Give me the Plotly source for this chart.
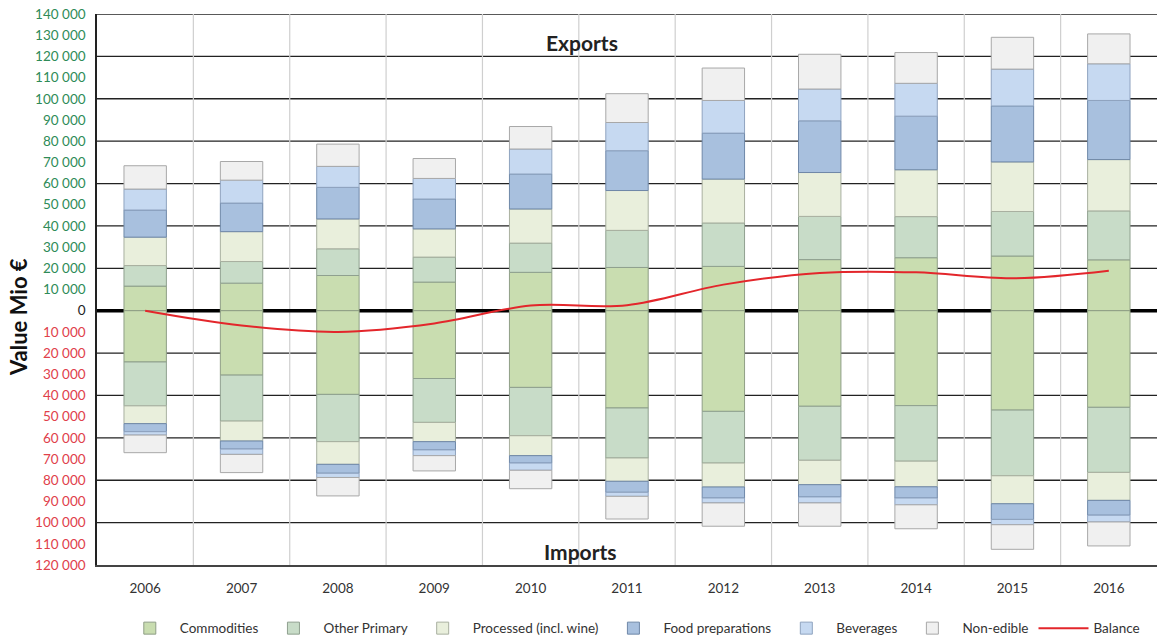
import plotly.graph_objects as go

years = ["2006", "2007", "2008", "2009", "2010", "2011", "2012", "2013", "2014", "2015", "2016"]
series_names = ["Commodities", "Other Primary", "Processed (incl. wine)", "Food preparations", "Beverages", "Non-edible"]

# Exports (Mio €), positive side
exp_commodities = [11600, 13000, 16600, 13500, 18100, 20400, 20900, 24100, 25000, 25800, 24000]
exp_other_primary = [9700, 10200, 12600, 11800, 13800, 17500, 20500, 20400, 19400, 21000, 23100]
exp_processed = [13400, 14100, 14100, 13300, 16100, 18800, 20700, 20700, 22100, 23400, 24200]
exp_food_prep = [12800, 13500, 14900, 14100, 16500, 18800, 21700, 24400, 25300, 26400, 27900]
exp_beverages = [9900, 10800, 9900, 9700, 11800, 13300, 15400, 15000, 15500, 17400, 17300]
exp_non_edible = [11000, 8800, 10500, 9400, 10600, 13600, 15300, 16400, 14500, 15000, 14100]

# Imports (Mio €), drawn below zero
imp_commodities = [24200, 30400, 39500, 32000, 36200, 45900, 47500, 45100, 44800, 46900, 45600]
imp_other_primary = [20700, 21700, 22300, 20700, 22800, 23600, 24400, 25500, 26200, 31000, 30700]
imp_processed = [8400, 9400, 10700, 9100, 9400, 11000, 11300, 11500, 12100, 13200, 13200]
imp_food_prep = [3800, 3800, 4200, 3900, 3500, 5200, 5200, 5800, 5300, 7400, 7000]
imp_beverages = [1600, 2500, 2000, 2700, 3400, 1900, 2300, 2800, 3200, 2500, 3200]
imp_non_edible = [8300, 8600, 8700, 7200, 8700, 10700, 11000, 11000, 11300, 11600, 11300]

balance = [0, -7000, -10000, -6000, 2400, 2600, 12300, 17800, 18100, 15300, 18900]

tick_values = list(range(-120000, 140001, 10000))

exports = [exp_commodities, exp_other_primary, exp_processed, exp_food_prep, exp_beverages, exp_non_edible]
imports = [imp_commodities, imp_other_primary, imp_processed, imp_food_prep, imp_beverages, imp_non_edible]

fills = ["#c9ddb0", "#c8dcc8", "#e9efdc", "#a8c0de", "#c6d9f1", "#f0f0f0"]
borders = ["#8f9f86", "#8fa08f", "#a9b0a0", "#6f88a8", "#8fa3bf", "#a8a8a8"]

fig = go.Figure()
for i, name in enumerate(series_names):
    fig.add_trace(go.Bar(
        x=years, y=exports[i], name=name, legendgroup=name,
        marker=dict(color=fills[i], line=dict(color=borders[i], width=1)),
        width=0.44, showlegend=True))
    fig.add_trace(go.Bar(
        x=years, y=[-v for v in imports[i]], name=name, legendgroup=name,
        marker=dict(color=fills[i], line=dict(color=borders[i], width=1)),
        width=0.44, showlegend=False))

fig.add_trace(go.Scatter(
    x=years, y=balance, name="Balance", mode="lines",
    line=dict(color="#e3262b", width=2, shape="spline", smoothing=1.0)))

def fmt(v):
    s = f"{abs(v):,}".replace(",", " ")
    if v > 0:
        return f'<span style="color:#2e8b57">{s}</span>'
    if v < 0:
        return f'<span style="color:#e0404a">{s}</span>'
    return '<span style="color:#222">0</span>'

shapes = []
for v in range(-100000, 140001, 20000):
    if v == 0:
        continue
    shapes.append(dict(type="line", xref="paper", yref="y", x0=0, x1=1, y0=v, y1=v,
                       line=dict(color="#222", width=1.3), layer="below"))
for k in range(len(years) - 1):
    shapes.append(dict(type="line", xref="x", yref="paper", x0=k + 0.5, x1=k + 0.5, y0=0, y1=1,
                       line=dict(color="#cfcfcf", width=1.2), layer="below"))
shapes.append(dict(type="line", xref="paper", yref="y", x0=0, x1=1, y0=0, y1=0,
                   line=dict(color="#000", width=3.5), layer="below"))

fig.update_layout(
    width=1157, height=644,
    margin=dict(l=97, r=0, t=14, b=77),
    plot_bgcolor="white", paper_bgcolor="white",
    barmode="relative", bargap=0.56,
    font=dict(family="Lato, 'Open Sans', sans-serif", size=13, color="#333"),
    shapes=shapes,
    showlegend=True,
    legend=dict(orientation="h", x=0.505, xanchor="center", y=-0.115, yanchor="middle",
                font=dict(size=13.5, color="#333"), traceorder="normal", itemwidth=50),
    annotations=[
        dict(text="<b>Exports</b>", x=4.53, y=126500, xref="x", yref="y", showarrow=False,
             xanchor="center", yanchor="middle", font=dict(size=21, color="#222")),
        dict(text="<b>Imports</b>", x=4.52, y=-113500, xref="x", yref="y", showarrow=False,
             xanchor="center", yanchor="middle", font=dict(size=21, color="#222")),
        dict(text="<b>Value Mio €</b>", x=-0.0745, y=0.45, xref="paper", yref="paper", showarrow=False,
             xanchor="center", yanchor="middle", textangle=-90, font=dict(size=22, color="#111")),
    ],
)

fig.update_xaxes(type="category", range=[-0.5, 10.5], showgrid=False, showline=True,
                 linecolor="#444", linewidth=1.5, ticks="", ticklabelstandoff=10,
                 tickfont=dict(size=13.5, color="#333"))
fig.update_yaxes(range=[-120000, 140000], tickvals=tick_values, ticktext=[fmt(v) for v in tick_values],
                 showgrid=False, zeroline=False, showline=True, linecolor="#222", linewidth=1.5,
                 ticks="", ticklabelstandoff=7, tickfont=dict(size=13.5))

fig.write_html("out.html", config={"displayModeBar": False},
               post_script="document.body.style.margin='0';")
